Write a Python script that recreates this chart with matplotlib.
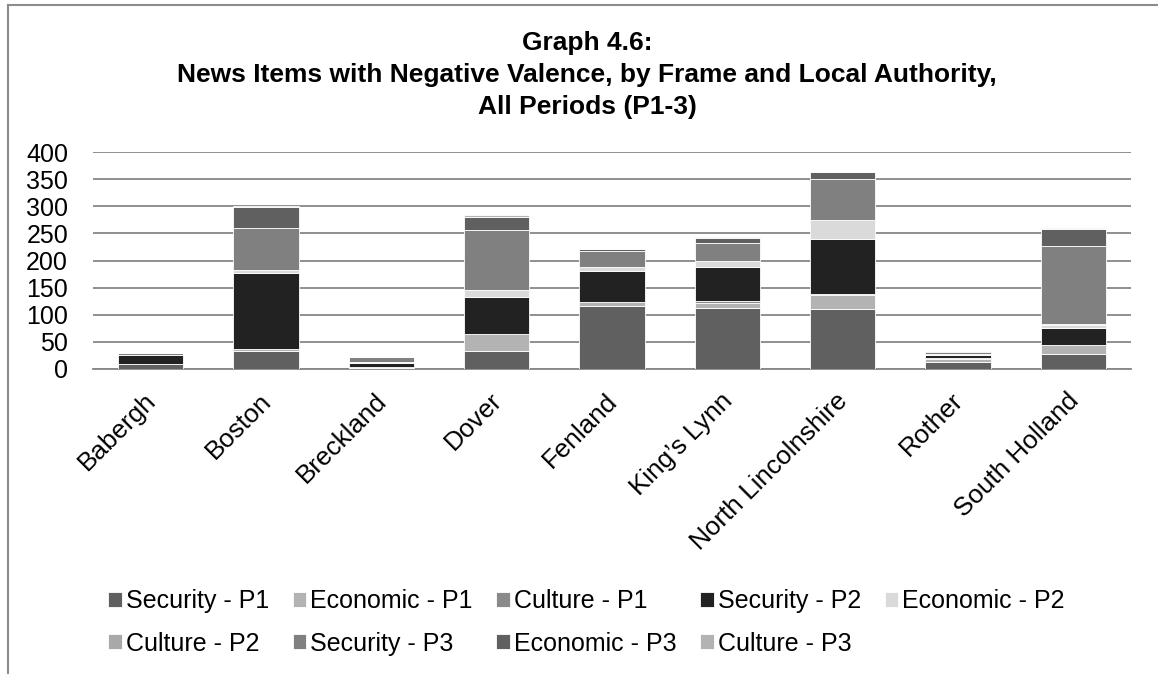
import matplotlib.pyplot as plt
import matplotlib.transforms as mtransforms
from matplotlib.lines import Line2D
import numpy as np

plt.rcParams['font.family'] = ['Liberation Sans', 'DejaVu Sans']

autorites = ["Babergh", "Boston", "Breckland", "Dover", "Fenland",
             "King\u2019s Lynn", "North Lincolnshire", "Rother", "South Holland"]

series = ["Security - P1", "Economic - P1", "Culture - P1",
          "Security - P2", "Economic - P2", "Culture - P2",
          "Security - P3", "Economic - P3", "Culture - P3"]

# valeurs par série (une valeur par autorité locale)
security_p1 = [9, 34, 2, 33, 116, 112, 110, 13, 28]
economic_p1 = [1, 2, 2, 31, 8, 10, 26, 5, 16]
culture_p1 = [0, 1, 0, 0, 0, 3, 2, 2, 1]
security_p2 = [15, 140, 7, 69, 57, 63, 101, 5, 30]
economic_p2 = [1, 5, 2, 13, 7, 11, 36, 1, 7]
culture_p2 = [0, 1, 0, 0, 0, 0, 0, 1, 1]
security_p3 = [3, 77, 9, 111, 29, 33, 75, 5, 144]
economic_p3 = [1, 38, 1, 24, 4, 10, 14, 1, 31]
culture_p3 = [0, 2, 0, 3, 0, 2, 0, 0, 2]

valeurs = [security_p1, economic_p1, culture_p1,
           security_p2, economic_p2, culture_p2,
           security_p3, economic_p3, culture_p3]

couleurs = ["#606060", "#b3b3b3", "#8a8a8a",
            "#222222", "#dadada", "#a9a9a9",
            "#808080", "#606060", "#b3b3b3"]

fig = plt.figure(figsize=(11.58, 6.74), dpi=100)
ax = fig.add_axes([93 / 1158, 1 - 369 / 674, 1038 / 1158, 217 / 674])

x = np.arange(len(autorites))
bas = np.zeros(len(autorites))
barres = []
for nom, vals, coul in zip(series, valeurs, couleurs):
    b = ax.bar(x, vals, 0.565, bottom=bas, color=coul, edgecolor="white",
               linewidth=0.6, label=nom, zorder=3)
    barres.append(b)
    bas += np.array(vals)

ax.set_xlim(-0.5, len(autorites) - 0.5)
ax.set_ylim(0, 400)
ax.set_yticks(range(0, 401, 50))
ax.yaxis.grid(True, color="#878787", linewidth=1.3, zorder=0)
for s in ["top", "right", "left"]:
    ax.spines[s].set_visible(False)
ax.spines["bottom"].set_color("#878787")
ax.spines["bottom"].set_linewidth(1.3)
ax.tick_params(axis="both", length=0, labelsize=18)
ax.tick_params(axis="y", pad=18)

ax.set_xticks(x)
ax.set_xticklabels(autorites, rotation=45, ha="right", va="top",
                   rotation_mode="anchor", fontsize=18.8)
ax.tick_params(axis="x", pad=14)
decalage = mtransforms.ScaledTranslation(-7 / 100, 0, fig.dpi_scale_trans)
for lab in ax.get_xticklabels():
    lab.set_transform(lab.get_transform() + decalage)

# titre sur trois lignes
fig.text(0.507, 1 - 50 / 674, "Graph 4.6:", ha="center", va="baseline",
         fontsize=19, fontweight="bold")
fig.text(0.507, 1 - 82 / 674,
         "News Items with Negative Valence, by Frame and Local Authority,",
         ha="center", va="baseline", fontsize=19, fontweight="bold")
fig.text(0.507, 1 - 114 / 674, "All Periods (P1-3)", ha="center",
         va="baseline", fontsize=19, fontweight="bold")

# légende sur deux lignes, remplie ligne par ligne
ordre = [0, 5, 1, 6, 2, 7, 3, 8, 4]
fig.legend([barres[i] for i in ordre], [series[i] for i in ordre],
           loc="upper left", bbox_to_anchor=(108 / 1158, 1 - 589 / 674),
           ncol=5, frameon=False, fontsize=18, handlelength=0.55,
           handleheight=0.55, handletextpad=0.15, columnspacing=0.95,
           labelspacing=0.75, borderpad=0, borderaxespad=0)

# cadre du graphique
fig.add_artist(Line2D([8 / 1158, 8 / 1158], [0, 1 - 5 / 674],
                      color="#8c8c8c", linewidth=1.5, transform=fig.transFigure))
fig.add_artist(Line2D([8 / 1158, 1], [1 - 5 / 674, 1 - 5 / 674],
                      color="#8c8c8c", linewidth=1.5, transform=fig.transFigure))

plt.savefig("out.png", dpi=100)
plt.close()
